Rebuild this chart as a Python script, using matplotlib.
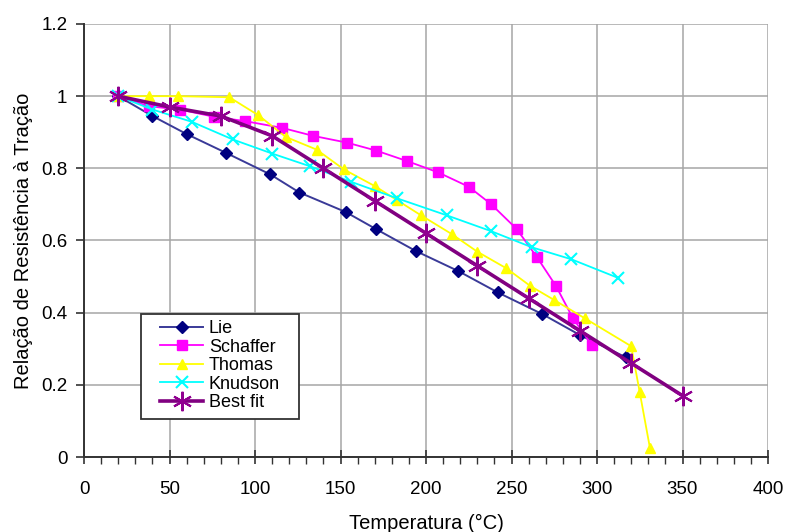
import matplotlib
matplotlib.use("Agg")

import matplotlib.pyplot as plt
from matplotlib.patches import Rectangle
from matplotlib.ticker import MultipleLocator, FuncFormatter


plt.rcParams["font.family"] = ["Liberation Sans", "DejaVu Sans"]

# Ensaios de tração a temperatura elevada
lie_t = [20, 40, 60, 83, 109, 126, 153, 171, 194, 219, 242, 268, 290, 317]
lie_r = [1.0, 0.945, 0.895, 0.843, 0.783, 0.733, 0.679, 0.631, 0.571, 0.515, 0.456, 0.396, 0.338, 0.276]

schaffer_t = [20, 38, 56, 76, 94, 116, 134, 154, 171, 189, 207, 225, 238, 253, 265, 276, 286, 297]
schaffer_r = [1.0, 0.972, 0.963, 0.943, 0.931, 0.912, 0.89, 0.871, 0.849, 0.82, 0.789, 0.749, 0.701,
              0.632, 0.553, 0.474, 0.384, 0.31]

thomas_t = [20, 38, 55, 85, 102, 118, 136, 152, 170, 183, 197, 215, 230, 247, 261, 275, 293, 320, 325, 331]
thomas_r = [1.0, 1.0, 1.0, 0.997, 0.947, 0.887, 0.852, 0.797, 0.751, 0.712, 0.670, 0.618, 0.569, 0.523,
            0.474, 0.435, 0.384, 0.307, 0.179, 0.024]

knudson_t = [20, 40, 63, 87, 110, 132, 156, 183, 212, 238, 262, 285, 312]
knudson_r = [1.0, 0.963, 0.929, 0.880, 0.841, 0.806, 0.763, 0.717, 0.670, 0.626, 0.581, 0.548, 0.497]

fit_t = [20, 50, 80, 110, 140, 170, 200, 230, 260, 290, 320, 350]
fit_r = [1.0, 0.97, 0.945, 0.89, 0.80, 0.71, 0.62, 0.53, 0.44, 0.35, 0.26, 0.17]

fig = plt.figure(figsize=(7.88, 5.32), dpi=100)
ax = fig.add_axes([84 / 788, 1 - 457 / 532, 684 / 788, 433 / 532])

ax.plot(lie_t, lie_r, "-", color="#3A3A98", lw=1.4, marker="D", ms=6,
        mfc="#000080", mec="#000080", label="Lie", zorder=3)
ax.plot(schaffer_t, schaffer_r, "-", color="#FF00FF", lw=1.3, marker="s", ms=6.5,
        mfc="#FF00FF", mec="#FF00FF", label="Schaffer", zorder=3)
ax.plot(thomas_t, thomas_r, "-", color="#FFFF00", lw=1.3, marker="^", ms=7.5,
        mfc="#FFFF00", mec="#FFFF00", label="Thomas", zorder=3)
ax.plot(knudson_t, knudson_r, "-", color="#00FFFF", lw=1.3, marker="x", ms=8, mew=1.5,
        label="Knudson", zorder=3)
ax.plot(fit_t, fit_r, "-", color="#800080", lw=2.6, marker=(6, 2, 0), ms=14, mew=1.5,
        mec="#900090", label="Best fit", zorder=4)

ax.set_xlim(0, 400)
ax.set_ylim(0, 1.2)
ax.xaxis.set_major_locator(MultipleLocator(50))
ax.xaxis.set_minor_locator(MultipleLocator(10))
ax.yaxis.set_major_locator(MultipleLocator(0.2))
ax.yaxis.set_major_formatter(FuncFormatter(lambda v, p: f"{v:g}"))

ax.grid(True, which="major", color="#A6A6A6", lw=1.1)
ax.set_axisbelow(True)
for side in ("top", "right"):
    ax.spines[side].set_visible(False)
for side in ("left", "bottom"):
    ax.spines[side].set_color("#333333")
    ax.spines[side].set_linewidth(1.4)

ax.tick_params(axis="x", which="major", direction="inout", length=10, width=1.2,
               color="#333333", labelsize=13.5, pad=12)
ax.tick_params(axis="x", which="minor", direction="out", length=5, width=1.0, color="#333333")
ax.tick_params(axis="y", which="major", direction="out", length=6, width=1.2,
               color="#333333", labelsize=13.5, pad=6)

ax.set_xlabel("Temperatura (°C)", fontsize=14.5, labelpad=12)
ax.set_ylabel("Relação de Resistência à Tração", fontsize=14.5, labelpad=6)

# legend box drawn separately so the padding around the entries can be wider
ax.add_patch(Rectangle((57 / 684, 38 / 433), 158 / 684, 105 / 433, transform=ax.transAxes,
                       facecolor="white", edgecolor="#333333", lw=1.3, zorder=5))
leg = ax.legend(loc="lower left", bbox_to_anchor=(76 / 684, 46 / 433), borderaxespad=0,
                fontsize=13, frameon=False, handlelength=2.4, borderpad=0,
                labelspacing=0.08, handletextpad=0.3)
leg.set_zorder(6)

fig.savefig("out.png", dpi=100)
